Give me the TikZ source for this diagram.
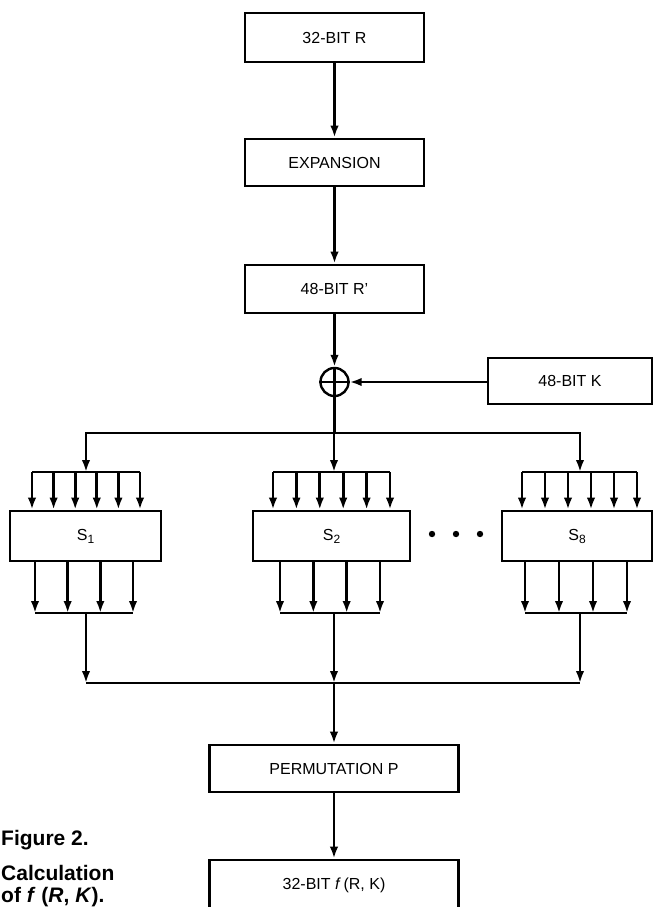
\documentclass[tikz,border=0pt]{standalone}
\usepackage{fontspec}
\setmainfont{Liberation Sans}
\usepackage{tikz}
\usetikzlibrary{arrows.meta}
\newcommand{\sbx}[1]{S\raisebox{-0.35ex}{\fontsize{12}{12}\selectfont #1}}
\tikzset{blk/.style={draw,line width=2.8pt,inner sep=0pt,font=\fontsize{16}{18}\selectfont}}
\tikzset{wire/.style={line width=2.7pt}}
\tikzset{cpt/.style={anchor=base west,inner sep=0pt,font=\bfseries\fontsize{21}{23}\selectfont}}

\begin{document}
\begin{tikzpicture}[line cap=butt,line join=miter,>={Latex[length=12pt,width=8.5pt]},x=1pt,y=-1pt]
		\useasboundingbox (0,0) rectangle (654,907);
		\node[blk,minimum width=179pt,minimum height=49pt] (rin) at (334.5,37.5) {32-BIT R};
		\node[blk,minimum width=179pt,minimum height=47pt] (expn) at (334.5,162.5) {EXPANSION};
		\node[blk,minimum width=179pt,minimum height=48pt] (rprime) at (334.5,289) {48-BIT R'};
		\node[circle,draw,line width=2.4pt,minimum size=28pt,inner sep=0pt] (xor) at (334.5,382) {};
		\draw[wire] (xor.north) -- (xor.south) (xor.west) -- (xor.east);
		\node[blk,minimum width=164pt,minimum height=46pt] (key) at (570,381) {48-BIT K};
		\node[blk,minimum width=151pt,minimum height=50pt] (s1) at (85.5,536) {\sbx{1}};
		\node[blk,minimum width=157pt,minimum height=50pt] (s2) at (331.5,536) {\sbx{2}};
		\node[blk,minimum width=150pt,minimum height=50pt] (s8) at (577,536) {\sbx{8}};
		\node[blk,minimum width=249pt,minimum height=47pt] (perm) at (334,768.5) {PERMUTATION P};
		\node[blk,minimum width=249pt,minimum height=50pt] (fout) at (334,885) {32-BIT \textit{f}\,(R, K)};
		\coordinate (fan) at (334.5,433);
		\coordinate (join) at (334,683);
		\draw[wire,->] (rin) -- (expn);
		\draw[wire,->] (expn) -- (rprime);
		\draw[wire,->] (rprime) -- (xor);
		\draw[wire,->] (key.west |- xor.east) -- (xor.east);
		\draw[wire] (xor.south) -- (fan);
		\foreach \s/\ia/\ib/\oa/\ob/\c in {s1/32/140/35/133/86, s2/273/390/280/380/334, s8/522/637/525/627/580}{
			\coordinate (\s top) at (\c,472);
			\coordinate (\s bot) at (\c,613);
			\draw[wire,->] (fan) -| (\s top);
			\draw[wire] (\ia,472) -- (\ib,472);
			\foreach \k [evaluate=\k as \xx using \ia+\k*(\ib-\ia)/5] in {0,...,5}
				\draw[wire,->] (\xx,472) -- (\s.north -| \xx,0);
			\foreach \k [evaluate=\k as \xx using \oa+\k*(\ob-\oa)/3] in {0,...,3}
				\draw[wire,->] (\s.south -| \xx,0) -- (\xx,613);
			\draw[wire] (\oa,613) -- (\ob,613);
			\draw[wire,->] (\s bot) -- (\s bot |- join);
		}
		\draw[wire] (s1bot |- join) -- (s8bot |- join);
		\draw[wire,->] (join) -- (perm);
		\draw[wire,->] (perm) -- (fout);
		\fill (432,534) circle (3.2pt) (456,534) circle (3.2pt) (480,534) circle (3.2pt);
		\node[cpt] (cap) at (1,845) {Figure 2.};
		\node[cpt] (capb) at (1,880) {Calculation};
		\node[cpt] (capc) at (1,902) {of \textit{f} (\textit{R}, \textit{K}).};
		
		\end{tikzpicture}
\end{document}
